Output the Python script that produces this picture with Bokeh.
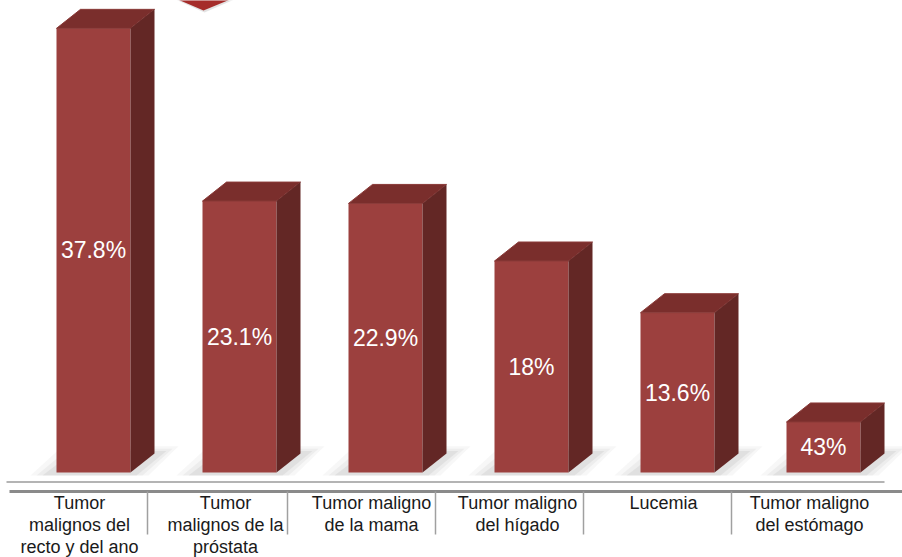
from bokeh.plotting import figure
from bokeh.models import Range1d, ColumnDataSource
from bokeh.embed import file_html
from bokeh.resources import INLINE
from bokeh.core.properties import value

# ---- data ----
categories = [
    "Tumor\nmalignos del\nrecto y del ano",
    "Tumor\nmalignos de la\npróstata",
    "Tumor maligno\nde la mama",
    "Tumor maligno\ndel hígado",
    "Lucemia",
    "Tumor maligno\ndel estómago",
]
values = [37.8, 23.1, 22.9, 18.0, 13.6, 4.3]
value_labels = ["37.8%", "23.1%", "22.9%", "18%", "13.6%", "43%"]

# ---- layout helpers (pixel geometry -> data units) ----
W, H = 902, 557
X0PX, XSTEP = 93.0, 146.0      # pixel centre of first bar, spacing
BASEPX, YSCALE = 472.0, 11.75  # pixel row of baseline, px per unit

def px2x(px):
    return (px - X0PX) / XSTEP

def px2y(py):
    return (BASEPX - py) / YSCALE

HW = 37.0 / XSTEP
DX = 24.0 / XSTEP
DY = 19.0 / YSCALE

p = figure(width=W, height=H, output_backend="svg", toolbar_location=None,
           x_range=Range1d(px2x(0), px2x(W)), y_range=Range1d(px2y(H), px2y(0)),
           min_border=0, x_axis_location=None, y_axis_location=None)
p.outline_line_color = None
p.xgrid.visible = False
p.ygrid.visible = False
p.background_fill_color = "white"
p.border_fill_color = "white"

idx = list(range(len(values)))

# ---- soft shadows ----
for k, (e, a) in enumerate([(18, 0.06), (12, 0.08), (6, 0.10)]):
    ex = e / XSTEP
    ey = e / YSCALE
    xs, ys = [], []
    for i, v in zip(idx, values):
        L, R = i - HW, i + HW
        xs.append([L - ex - 8 / XSTEP, R + ex, R + DX + ex + 6 / XSTEP, L + DX - ex])
        ys.append([-3 / YSCALE, -3 / YSCALE, DY + ey * 0.4, DY + ey * 0.4])
    p.patches(xs, ys, fill_color="#7a7a7a", fill_alpha=a, line_color=None)

# ---- 3D bars ----
front = ColumnDataSource(dict(left=[i - HW for i in idx], right=[i + HW for i in idx],
                              top=values, bottom=[0] * len(values)))
p.quad(left="left", right="right", top="top", bottom="bottom", source=front,
       fill_color="#9c403e", line_color=None)

top_xs = [[i - HW, i - HW + DX, i + HW + DX, i + HW] for i in idx]
top_ys = [[v, v + DY, v + DY, v] for v in values]
p.patches(top_xs, top_ys, fill_color="#7a2e2c", line_color="#8a3a38", line_width=1)

side_xs = [[i + HW, i + HW, i + HW + DX, i + HW + DX] for i in idx]
side_ys = [[0, v, v + DY, DY] for v in values]
p.patches(side_xs, side_ys, fill_color="#632725", line_color=None)

# ---- value labels ----
p.text(x=idx, y=[v / 2 for v in values], text=value_labels,
       text_color="white", text_font=value("Liberation Sans"), text_font_size="23px",
       text_align="center", text_baseline="middle")

# ---- floor lines and separators ----
p.segment(x0=[px2x(6)], y0=[px2y(481.5)], x1=[px2x(884)], y1=[px2y(481.5)],
          line_color="#b4b4b4", line_width=2)
p.segment(x0=[px2x(9)], y0=[px2y(491)], x1=[px2x(W + 2)], y1=[px2y(491)],
          line_color="#8a8a8a", line_width=3)
sep_px = [147, 287, 435, 583, 731]
p.segment(x0=[px2x(s) for s in sep_px], y0=[px2y(491)] * len(sep_px),
          x1=[px2x(s) for s in sep_px], y1=[px2y(534)] * len(sep_px),
          line_color="#a0a0a0", line_width=1.5)

# ---- category labels ----
p.text(x=[i - 14 / XSTEP for i in idx], y=[px2y(492)] * len(idx), text=categories,
       text_color="#1a1a1a", text_font=value("Liberation Sans"), text_font_size="18px",
       text_align="center", text_baseline="top", text_line_height=1.1)

# ---- decorative marker at top ----
p.patch([px2x(173), px2x(236), px2x(204)], [px2y(-2), px2y(-2), px2y(12)],
        fill_color="#909090", fill_alpha=0.25, line_color=None)
p.patch([px2x(175), px2x(232), px2x(203)], [px2y(-2), px2y(-2), px2y(10)],
        fill_color="#a52c2a", line_color=None)

open("out.html", "w").write(file_html(p, INLINE))
